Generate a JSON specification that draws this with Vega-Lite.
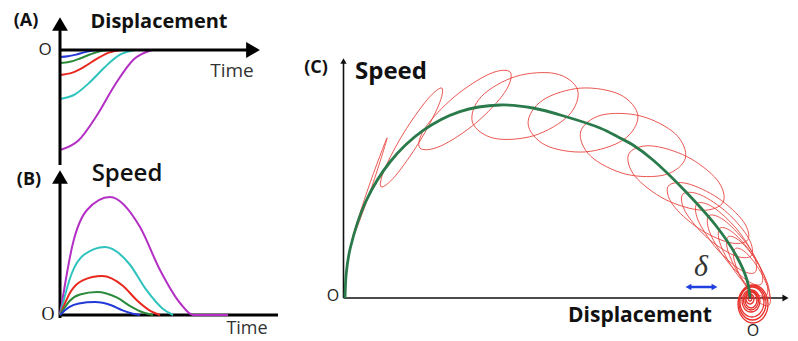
{
  "$schema": "https://vega.github.io/schema/vega-lite/v6.json",
  "padding": 0,
  "spacing": 10,
  "background": "white",
  "config": {"view": {"stroke": null}, "font": "Open Sans"},
  "datasets": {
    "dispCurves": [
      {"k":"k5","x":0,"y":-1},{"k":"k5","x":0.92,"y":-0.905},{"k":"k5","x":1.84,"y":-0.655},{"k":"k5","x":2.76,"y":-0.345},{"k":"k5","x":3.68,"y":-0.095},{"k":"k5","x":4.6,"y":0},
      {"k":"k4","x":0,"y":-0.49},{"k":"k4","x":0.75,"y":-0.443},{"k":"k4","x":1.5,"y":-0.321},{"k":"k4","x":2.25,"y":-0.169},{"k":"k4","x":3.0,"y":-0.047},{"k":"k4","x":3.75,"y":0},
      {"k":"k3","x":0,"y":-0.25},{"k":"k3","x":0.62,"y":-0.226},{"k":"k3","x":1.24,"y":-0.164},{"k":"k3","x":1.86,"y":-0.086},{"k":"k3","x":2.48,"y":-0.024},{"k":"k3","x":3.1,"y":0},
      {"k":"k2","x":0,"y":-0.13},{"k":"k2","x":0.5,"y":-0.118},{"k":"k2","x":1.0,"y":-0.085},{"k":"k2","x":1.5,"y":-0.045},{"k":"k2","x":2.0,"y":-0.012},{"k":"k2","x":2.5,"y":0},
      {"k":"k1","x":0,"y":-0.07},{"k":"k1","x":0.4,"y":-0.063},{"k":"k1","x":0.8,"y":-0.046},{"k":"k1","x":1.2,"y":-0.024},{"k":"k1","x":1.6,"y":-0.007},{"k":"k1","x":2.0,"y":0}
    ],
    "speedCurves": [
      {"k":"k5","x":0,"y":0},{"k":"k5","x":0.65,"y":0.72},{"k":"k5","x":1.35,"y":1.05},{"k":"k5","x":2.5,"y":1.18},{"k":"k5","x":4.0,"y":0.88},{"k":"k5","x":5.0,"y":0.45},{"k":"k5","x":6.0,"y":0.12},{"k":"k5","x":6.65,"y":0},{"k":"k5","x":7.4,"y":0},{"k":"k5","x":8.4,"y":0},
      {"k":"k4","x":0,"y":0},{"k":"k4","x":0.585,"y":0.415},{"k":"k4","x":1.215,"y":0.605},{"k":"k4","x":2.25,"y":0.68},{"k":"k4","x":3.47,"y":0.51},{"k":"k4","x":4.29,"y":0.258},{"k":"k4","x":5.11,"y":0.068},{"k":"k4","x":5.65,"y":0},
      {"k":"k3","x":0,"y":0},{"k":"k3","x":0.546,"y":0.238},{"k":"k3","x":1.134,"y":0.347},{"k":"k3","x":2.1,"y":0.39},{"k":"k3","x":3.14,"y":0.293},{"k":"k3","x":3.84,"y":0.148},{"k":"k3","x":4.54,"y":0.039},{"k":"k3","x":5.0,"y":0},
      {"k":"k2","x":0,"y":0},{"k":"k2","x":0.481,"y":0.14},{"k":"k2","x":0.999,"y":0.205},{"k":"k2","x":1.85,"y":0.23},{"k":"k2","x":2.86,"y":0.173},{"k":"k2","x":3.53,"y":0.087},{"k":"k2","x":4.2,"y":0.023},{"k":"k2","x":4.65,"y":0},
      {"k":"k1","x":0,"y":0},{"k":"k1","x":0.455,"y":0.079},{"k":"k1","x":0.945,"y":0.116},{"k":"k1","x":1.75,"y":0.13},{"k":"k1","x":2.56,"y":0.098},{"k":"k1","x":3.1,"y":0.049},{"k":"k1","x":3.64,"y":0.013},{"k":"k1","x":4.0,"y":0}
    ],
    "axesA": [{"x":0,"y":-1.15,"x2":0,"y2":0.26},{"x":0,"y":0,"x2":9.65,"y2":0}],
    "arrUpA": [{"x":0,"y":0.26}],
    "arrRightA": [{"x":9.65,"y":0}],
    "axesB": [{"x":0,"y":-0.03,"x2":0,"y2":1.38},{"x":0,"y":0,"x2":10.9,"y2":0}],
    "arrUpB": [{"x":0,"y":1.38}],
    "axesC": [{"x":-4.065,"y":0,"x2":-4.065,"y2":2.37},{"x":-4.065,"y":0,"x2":0.355,"y2":0}],
    "arrUpC": [{"x":-4.065,"y":2.37}],
    "arrRightC": [{"x":0.355,"y":0}],
    "deltaLine": [{"x":-0.6,"y":0.11,"x2":-0.37,"y2":0.11}],
    "deltaLeft": [{"x":-0.615,"y":0.11}],
    "deltaRight": [{"x":-0.355,"y":0.11}],
    "green": [
      {"x":-4.05,"y":0},{"x":-4.037,"y":0.252},{"x":-3.997,"y":0.5},{"x":-3.842,"y":0.965},{"x":-3.596,"y":1.365},{"x":-3.275,"y":1.671},{"x":-2.901,"y":1.864},{"x":-2.5,"y":1.93},{"x":-2.17,"y":1.9},{"x":-1.83,"y":1.81},{"x":-1.5,"y":1.7},{"x":-1.3,"y":1.6},{"x":-1.17,"y":1.53},{"x":-0.97,"y":1.38},{"x":-0.63,"y":1.05},{"x":-0.33,"y":0.71},{"x":-0.13,"y":0.41},{"x":-0.03,"y":0.18},{"x":0,"y":0.01}
    ],
    "red": [
      {"e":"E0","i":0,"x":-3.629,"y":1.601},{"e":"E0","i":1,"x":-3.791,"y":1.085},{"e":"E0","i":2,"x":-3.981,"y":0.579},{"e":"E0","i":3,"x":-3.819,"y":1.095},
      {"e":"E1","i":0,"x":-3.081,"y":2.099},{"e":"E1","i":1,"x":-3.116,"y":1.921},{"e":"E1","i":2,"x":-3.308,"y":1.558},{"e":"E1","i":3,"x":-3.546,"y":1.222},{"e":"E1","i":4,"x":-3.689,"y":1.111},{"e":"E1","i":5,"x":-3.654,"y":1.289},{"e":"E1","i":6,"x":-3.462,"y":1.652},{"e":"E1","i":7,"x":-3.224,"y":1.988},
      {"e":"E2","i":0,"x":-2.398,"y":2.259},{"e":"E2","i":1,"x":-2.453,"y":2.056},{"e":"E2","i":2,"x":-2.741,"y":1.75},{"e":"E2","i":3,"x":-3.093,"y":1.52},{"e":"E2","i":4,"x":-3.302,"y":1.501},{"e":"E2","i":5,"x":-3.247,"y":1.704},{"e":"E2","i":6,"x":-2.959,"y":2.01},{"e":"E2","i":7,"x":-2.607,"y":2.24},
      {"e":"E3","i":0,"x":-1.724,"y":2.081},{"e":"E3","i":1,"x":-1.814,"y":1.825},{"e":"E3","i":2,"x":-2.16,"y":1.624},{"e":"E3","i":3,"x":-2.558,"y":1.597},{"e":"E3","i":4,"x":-2.776,"y":1.759},{"e":"E3","i":5,"x":-2.686,"y":2.015},{"e":"E3","i":6,"x":-2.341,"y":2.216},{"e":"E3","i":7,"x":-1.942,"y":2.243},
      {"e":"E4","i":0,"x":-1.121,"y":1.819},{"e":"E4","i":1,"x":-1.266,"y":1.582},{"e":"E4","i":2,"x":-1.648,"y":1.461},{"e":"E4","i":3,"x":-2.042,"y":1.527},{"e":"E4","i":4,"x":-2.219,"y":1.742},{"e":"E4","i":5,"x":-2.074,"y":1.978},{"e":"E4","i":6,"x":-1.692,"y":2.099},{"e":"E4","i":7,"x":-1.298,"y":2.033},
      {"e":"E5","i":0,"x":-0.646,"y":1.399},{"e":"E5","i":1,"x":-0.851,"y":1.232},{"e":"E5","i":2,"x":-1.243,"y":1.239},{"e":"E5","i":3,"x":-1.592,"y":1.417},{"e":"E5","i":4,"x":-1.694,"y":1.661},{"e":"E5","i":5,"x":-1.489,"y":1.828},{"e":"E5","i":6,"x":-1.097,"y":1.821},{"e":"E5","i":7,"x":-0.748,"y":1.643},
      {"e":"E6","i":0,"x":-0.268,"y":0.959},{"e":"E6","i":1,"x":-0.483,"y":0.878},{"e":"E6","i":2,"x":-0.849,"y":0.986},{"e":"E6","i":3,"x":-1.151,"y":1.219},{"e":"E6","i":4,"x":-1.212,"y":1.441},{"e":"E6","i":5,"x":-0.997,"y":1.522},{"e":"E6","i":6,"x":-0.631,"y":1.414},{"e":"E6","i":7,"x":-0.329,"y":1.181},
      {"e":"E7","i":0,"x":-0.022,"y":0.582},{"e":"E7","i":1,"x":-0.21,"y":0.555},{"e":"E7","i":2,"x":-0.521,"y":0.701},{"e":"E7","i":3,"x":-0.773,"y":0.934},{"e":"E7","i":4,"x":-0.818,"y":1.118},{"e":"E7","i":5,"x":-0.63,"y":1.145},{"e":"E7","i":6,"x":-0.319,"y":0.999},{"e":"E7","i":7,"x":-0.067,"y":0.766},
      {"e":"E7b","i":0,"x":0.012,"y":0.422},{"e":"E7b","i":1,"x":-0.164,"y":0.428},{"e":"E7b","i":2,"x":-0.437,"y":0.611},{"e":"E7b","i":3,"x":-0.647,"y":0.864},{"e":"E7b","i":4,"x":-0.672,"y":1.038},{"e":"E7b","i":5,"x":-0.496,"y":1.032},{"e":"E7b","i":6,"x":-0.223,"y":0.849},{"e":"E7b","i":7,"x":-0.013,"y":0.596},
      {"e":"E8","i":0,"x":0.049,"y":0.255},{"e":"E8","i":1,"x":-0.111,"y":0.292},{"e":"E8","i":2,"x":-0.347,"y":0.51},{"e":"E8","i":3,"x":-0.52,"y":0.78},{"e":"E8","i":4,"x":-0.529,"y":0.945},{"e":"E8","i":5,"x":-0.369,"y":0.908},{"e":"E8","i":6,"x":-0.133,"y":0.69},{"e":"E8","i":7,"x":0.04,"y":0.42},
      {"e":"E8b","i":0,"x":0.109,"y":0.136},{"e":"E8b","i":1,"x":-0.04,"y":0.182},{"e":"E8b","i":2,"x":-0.254,"y":0.402},{"e":"E8b","i":3,"x":-0.407,"y":0.668},{"e":"E8b","i":4,"x":-0.409,"y":0.824},{"e":"E8b","i":5,"x":-0.26,"y":0.778},{"e":"E8b","i":6,"x":-0.046,"y":0.558},{"e":"E8b","i":7,"x":0.107,"y":0.292},
      {"e":"E9","i":0,"x":0.159,"y":0.02},{"e":"E9","i":1,"x":0.022,"y":0.072},{"e":"E9","i":2,"x":-0.169,"y":0.293},{"e":"E9","i":3,"x":-0.302,"y":0.553},{"e":"E9","i":4,"x":-0.299,"y":0.7},{"e":"E9","i":5,"x":-0.162,"y":0.648},{"e":"E9","i":6,"x":0.029,"y":0.427},{"e":"E9","i":7,"x":0.162,"y":0.167},
      {"e":"E9b","i":0,"x":0.176,"y":-0.014},{"e":"E9b","i":1,"x":0.053,"y":0.037},{"e":"E9b","i":2,"x":-0.113,"y":0.242},{"e":"E9b","i":3,"x":-0.224,"y":0.481},{"e":"E9b","i":4,"x":-0.216,"y":0.614},{"e":"E9b","i":5,"x":-0.093,"y":0.563},{"e":"E9b","i":6,"x":0.073,"y":0.358},{"e":"E9b","i":7,"x":0.184,"y":0.119},
      {"e":"E10","i":0,"x":0.185,"y":-0.076},{"e":"E10","i":1,"x":0.075,"y":-0.028},{"e":"E10","i":2,"x":-0.067,"y":0.16},{"e":"E10","i":3,"x":-0.158,"y":0.377},{"e":"E10","i":4,"x":-0.145,"y":0.496},{"e":"E10","i":5,"x":-0.035,"y":0.448},{"e":"E10","i":6,"x":0.107,"y":0.26},{"e":"E10","i":7,"x":0.198,"y":0.043}
    ],
    "spiral": [
      {"e":"S1","i":0,"x":0.18,"y":-0.06},{"e":"S1","i":1,"x":0.136,"y":0.074},{"e":"S1","i":2,"x":0.03,"y":0.13},{"e":"S1","i":3,"x":-0.076,"y":0.074},{"e":"S1","i":4,"x":-0.12,"y":-0.06},{"e":"S1","i":5,"x":-0.076,"y":-0.194},{"e":"S1","i":6,"x":0.03,"y":-0.25},{"e":"S1","i":7,"x":0.136,"y":-0.194},
      {"e":"S1b","i":0,"x":0.16,"y":-0.05},{"e":"S1b","i":1,"x":0.12,"y":0.07},{"e":"S1b","i":2,"x":0.025,"y":0.12},{"e":"S1b","i":3,"x":-0.07,"y":0.07},{"e":"S1b","i":4,"x":-0.11,"y":-0.05},{"e":"S1b","i":5,"x":-0.07,"y":-0.17},{"e":"S1b","i":6,"x":0.025,"y":-0.22},{"e":"S1b","i":7,"x":0.12,"y":-0.17},
      {"e":"S2","i":0,"x":0.14,"y":-0.04},{"e":"S2","i":1,"x":0.105,"y":0.066},{"e":"S2","i":2,"x":0.02,"y":0.11},{"e":"S2","i":3,"x":-0.065,"y":0.066},{"e":"S2","i":4,"x":-0.1,"y":-0.04},{"e":"S2","i":5,"x":-0.065,"y":-0.146},{"e":"S2","i":6,"x":0.02,"y":-0.19},{"e":"S2","i":7,"x":0.105,"y":-0.146},
      {"e":"S3","i":0,"x":0.1,"y":-0.03},{"e":"S3","i":1,"x":0.074,"y":0.048},{"e":"S3","i":2,"x":0.01,"y":0.08},{"e":"S3","i":3,"x":-0.054,"y":0.048},{"e":"S3","i":4,"x":-0.08,"y":-0.03},{"e":"S3","i":5,"x":-0.054,"y":-0.108},{"e":"S3","i":6,"x":0.01,"y":-0.14},{"e":"S3","i":7,"x":0.074,"y":-0.108},
      {"e":"S3b","i":0,"x":0.085,"y":-0.025},{"e":"S3b","i":1,"x":0.063,"y":0.042},{"e":"S3b","i":2,"x":0.01,"y":0.07},{"e":"S3b","i":3,"x":-0.043,"y":0.042},{"e":"S3b","i":4,"x":-0.065,"y":-0.025},{"e":"S3b","i":5,"x":-0.043,"y":-0.092},{"e":"S3b","i":6,"x":0.01,"y":-0.12},{"e":"S3b","i":7,"x":0.063,"y":-0.092},
      {"e":"S4","i":0,"x":0.07,"y":-0.02},{"e":"S4","i":1,"x":0.052,"y":0.037},{"e":"S4","i":2,"x":0.01,"y":0.06},{"e":"S4","i":3,"x":-0.032,"y":0.037},{"e":"S4","i":4,"x":-0.05,"y":-0.02},{"e":"S4","i":5,"x":-0.032,"y":-0.077},{"e":"S4","i":6,"x":0.01,"y":-0.1},{"e":"S4","i":7,"x":0.052,"y":-0.077},
      {"e":"S5","i":0,"x":0.04,"y":-0.01},{"e":"S5","i":1,"x":0.028,"y":0.025},{"e":"S5","i":2,"x":0,"y":0.04},{"e":"S5","i":3,"x":-0.028,"y":0.025},{"e":"S5","i":4,"x":-0.04,"y":-0.01},{"e":"S5","i":5,"x":-0.028,"y":-0.045},{"e":"S5","i":6,"x":0,"y":-0.06},{"e":"S5","i":7,"x":0.028,"y":-0.045},
      {"e":"S6","i":0,"x":0.02,"y":0},{"e":"S6","i":1,"x":0.014,"y":0.021},{"e":"S6","i":2,"x":0,"y":0.03},{"e":"S6","i":3,"x":-0.014,"y":0.021},{"e":"S6","i":4,"x":-0.02,"y":0},{"e":"S6","i":5,"x":-0.014,"y":-0.021},{"e":"S6","i":6,"x":0,"y":-0.03},{"e":"S6","i":7,"x":0.014,"y":-0.021}
    ],
    "tagA": [{"x":-1.7,"y":0.29,"label":"(A)"}],
    "titleA": [{"x":4.95,"y":0.28,"label":"Displacement"}],
    "timeA": [{"x":8.6,"y":-0.21,"label":"Time"}],
    "originA": [{"x":-0.75,"y":0,"label":"O"}],
    "tagB": [{"x":-1.55,"y":1.35,"label":"(B)"}],
    "titleB": [{"x":3.35,"y":1.34,"label":"Speed"}],
    "timeB": [{"x":9.35,"y":-0.14,"label":"Time"}],
    "originB": [{"x":-0.6,"y":0,"label":"O"}],
    "tagC": [{"x":-4.34,"y":2.3,"label":"(C)"}],
    "titleC": [{"x":-3.95,"y":2.19,"label":"Speed"}],
    "xTitleC": [{"x":-1.1,"y":-0.24,"label":"Displacement"}],
    "originC": [{"x":-4.17,"y":0.02,"label":"O"},{"x":0.03,"y":-0.33,"label":"O"}],
    "deltaText": [{"x":-0.49,"y":0.31,"label":"δ"}]
  },
  "hconcat": [
    {
      "spacing": 0,
      "bounds": "flush",
      "vconcat": [
        {
          "width": 280,
          "height": 165,
          "encoding": {
            "x": {"field": "x", "type": "quantitative", "scale": {"domain": [-3, 11], "nice": false, "zero": false}, "axis": null},
            "y": {"field": "y", "type": "quantitative", "scale": {"domain": [-1.15, 0.5], "nice": false, "zero": false}, "axis": null}
          },
          "layer": [
            {"data": {"name": "dispCurves"}, "mark": {"type": "line", "interpolate": "monotone", "strokeWidth": 2},
             "encoding": {"color": {"field": "k", "type": "nominal", "scale": {"domain": ["k1","k2","k3","k4","k5"], "range": ["#2338d6","#2a8a3a","#e8281e","#2ec3bd","#b32fc4"]}, "legend": null}}},
            {"data": {"name": "axesA"}, "mark": {"type": "rule", "color": "black", "strokeWidth": 3},
             "encoding": {"x2": {"field": "x2"}, "y2": {"field": "y2"}}},
            {"data": {"name": "arrUpA"}, "mark": {"type": "point", "shape": "triangle-up", "filled": true, "color": "black", "size": 250, "opacity": 1}},
            {"data": {"name": "arrRightA"}, "mark": {"type": "point", "shape": "triangle-right", "filled": true, "color": "black", "size": 250, "opacity": 1}},
            {"data": {"name": "tagA"}, "mark": {"type": "text", "font": "Open Sans", "fontWeight": "bold", "fontSize": 18, "align": "center", "baseline": "middle", "color": "#111"}, "encoding": {"text": {"field": "label"}}},
            {"data": {"name": "titleA"}, "mark": {"type": "text", "font": "Open Sans", "fontWeight": "bold", "fontSize": 20, "align": "center", "baseline": "middle", "color": "#111"}, "encoding": {"text": {"field": "label"}}},
            {"data": {"name": "timeA"}, "mark": {"type": "text", "font": "Open Sans", "fontSize": 19, "align": "center", "baseline": "middle", "color": "#333"}, "encoding": {"text": {"field": "label"}}},
            {"data": {"name": "originA"}, "mark": {"type": "text", "font": "Open Sans", "fontSize": 17, "align": "center", "baseline": "middle", "color": "#222"}, "encoding": {"text": {"field": "label"}}}
          ]
        },
        {
          "width": 280,
          "height": 176,
          "encoding": {
            "x": {"field": "x", "type": "quantitative", "scale": {"domain": [-3, 11], "nice": false, "zero": false}, "axis": null},
            "y": {"field": "y", "type": "quantitative", "scale": {"domain": [-0.26, 1.5], "nice": false, "zero": false}, "axis": null}
          },
          "layer": [
            {"data": {"name": "axesB"}, "mark": {"type": "rule", "color": "black", "strokeWidth": 3},
             "encoding": {"x2": {"field": "x2"}, "y2": {"field": "y2"}}},
            {"data": {"name": "arrUpB"}, "mark": {"type": "point", "shape": "triangle-up", "filled": true, "color": "black", "size": 250, "opacity": 1}},
            {"data": {"name": "speedCurves"}, "mark": {"type": "line", "interpolate": "monotone", "strokeWidth": 2},
             "encoding": {"color": {"field": "k", "type": "nominal", "scale": {"domain": ["k1","k2","k3","k4","k5"], "range": ["#2338d6","#2a8a3a","#e8281e","#2ec3bd","#b32fc4"]}, "legend": null}}},
            {"data": {"name": "tagB"}, "mark": {"type": "text", "font": "Open Sans", "fontWeight": "bold", "fontSize": 18, "align": "center", "baseline": "middle", "color": "#111"}, "encoding": {"text": {"field": "label"}}},
            {"data": {"name": "titleB"}, "mark": {"type": "text", "font": "Open Sans", "fontWeight": 600, "fontSize": 24, "align": "center", "baseline": "alphabetic", "color": "#111"}, "encoding": {"text": {"field": "label"}}},
            {"data": {"name": "timeB"}, "mark": {"type": "text", "font": "Open Sans", "fontSize": 18, "align": "center", "baseline": "middle", "color": "#333"}, "encoding": {"text": {"field": "label"}}},
            {"data": {"name": "originB"}, "mark": {"type": "text", "font": "Liberation Serif", "fontSize": 18, "align": "center", "baseline": "middle", "color": "#222"}, "encoding": {"text": {"field": "label"}}}
          ]
        }
      ]
    },
    {
      "width": 508,
      "height": 341,
      "encoding": {
        "x": {"field": "x", "type": "quantitative", "scale": {"domain": [-4.6, 0.48], "nice": false, "zero": false}, "axis": null},
        "y": {"field": "y", "type": "quantitative", "scale": {"domain": [-0.43, 2.98], "nice": false, "zero": false}, "axis": null}
      },
      "layer": [
        {"data": {"name": "axesC"}, "mark": {"type": "rule", "color": "#111", "strokeWidth": 1.6},
         "encoding": {"x2": {"field": "x2"}, "y2": {"field": "y2"}}},
        {"data": {"name": "arrUpC"}, "mark": {"type": "point", "shape": "triangle-up", "filled": true, "color": "#111", "size": 40, "opacity": 1}},
        {"data": {"name": "arrRightC"}, "mark": {"type": "point", "shape": "triangle-right", "filled": true, "color": "#111", "size": 50, "opacity": 1}},
        {"data": {"name": "red"}, "mark": {"type": "line", "interpolate": "cardinal-closed", "strokeWidth": 1, "color": "#e8453f", "opacity": 0.9},
         "encoding": {"detail": {"field": "e", "type": "nominal"}, "order": {"field": "i", "type": "quantitative"}}},
        {"data": {"name": "spiral"}, "mark": {"type": "line", "interpolate": "cardinal-closed", "strokeWidth": 1.3, "color": "#e8302a", "opacity": 1},
         "encoding": {"detail": {"field": "e", "type": "nominal"}, "order": {"field": "i", "type": "quantitative"}}},
        {"data": {"name": "green"}, "mark": {"type": "line", "interpolate": "catmull-rom", "strokeWidth": 2.8, "color": "#2b7a4b"}},
        {"data": {"name": "deltaLine"}, "mark": {"type": "rule", "color": "#1f3fe0", "strokeWidth": 2.5},
         "encoding": {"x2": {"field": "x2"}, "y2": {"field": "y2"}}},
        {"data": {"name": "deltaLeft"}, "mark": {"type": "point", "shape": "triangle-left", "filled": true, "color": "#1f3fe0", "size": 45, "opacity": 1}},
        {"data": {"name": "deltaRight"}, "mark": {"type": "point", "shape": "triangle-right", "filled": true, "color": "#1f3fe0", "size": 45, "opacity": 1}},
        {"data": {"name": "tagC"}, "mark": {"type": "text", "font": "Open Sans", "fontWeight": "bold", "fontSize": 18, "align": "center", "baseline": "middle", "color": "#111"}, "encoding": {"text": {"field": "label"}}},
        {"data": {"name": "titleC"}, "mark": {"type": "text", "font": "Open Sans", "fontWeight": "bold", "fontSize": 24, "align": "left", "baseline": "alphabetic", "color": "#111"}, "encoding": {"text": {"field": "label"}}},
        {"data": {"name": "xTitleC"}, "mark": {"type": "text", "font": "Open Sans", "fontWeight": "bold", "fontSize": 21, "align": "center", "baseline": "alphabetic", "color": "#111"}, "encoding": {"text": {"field": "label"}}},
        {"data": {"name": "originC"}, "mark": {"type": "text", "font": "Open Sans", "fontSize": 16, "align": "center", "baseline": "middle", "color": "#222"}, "encoding": {"text": {"field": "label"}}},
        {"data": {"name": "deltaText"}, "mark": {"type": "text", "font": "Liberation Serif", "fontStyle": "italic", "fontSize": 30, "align": "center", "baseline": "middle", "color": "#333"}, "encoding": {"text": {"field": "label"}}}
      ]
    }
  ]
}
